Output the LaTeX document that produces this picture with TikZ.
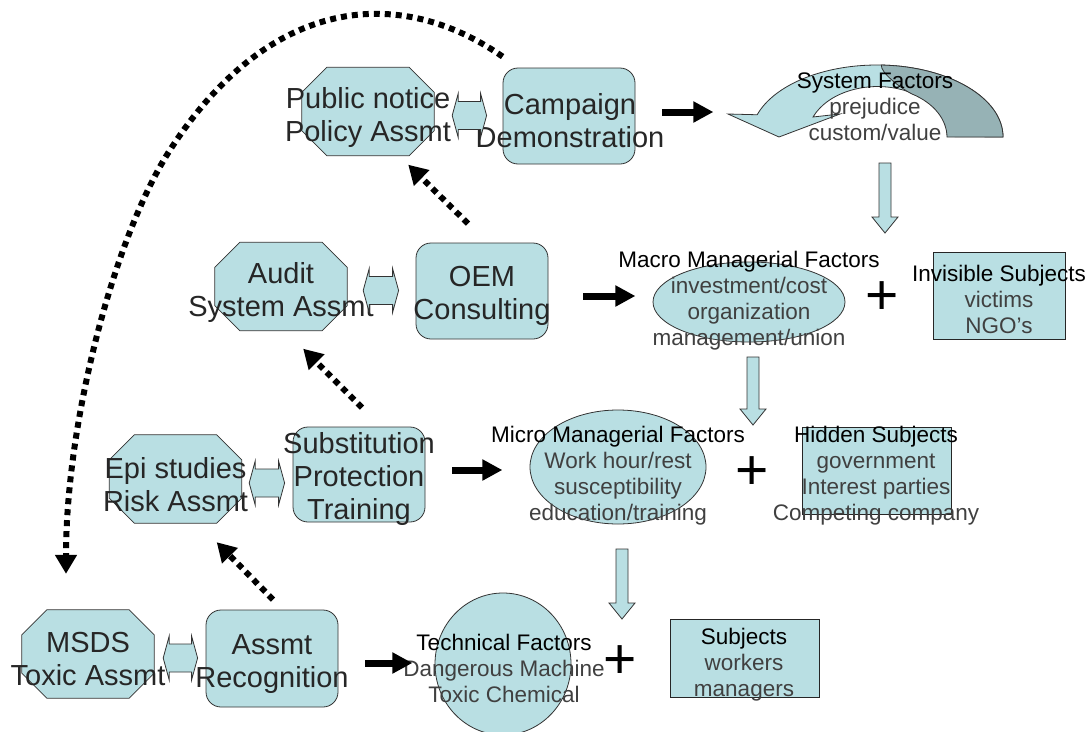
\documentclass[tikz,border=0pt]{standalone}
\usepackage{fontspec}
\setmainfont{Liberation Sans}
\usetikzlibrary{arrows.meta,shapes,calc}
\definecolor{boxfill}{RGB}{185,223,227}
\definecolor{boxdark}{RGB}{150,178,181}
\newcommand{\bigfont}{\fontsize{29pt}{33pt}\selectfont}
\newcommand{\smallfont}{\fontsize{22.5pt}{26pt}\selectfont}
\tikzset{
  shapeline/.style={draw=black!80, line width=0.8pt, fill=boxfill},
  octbase/.style={shape=rectangle, minimum width=132pt, minimum height=88pt, inner sep=0pt},
  roundbox/.style={shapeline, shape=rectangle, rounded corners=15pt, minimum width=132pt, minimum height=96pt, inner sep=0pt},
  subjbox/.style={shapeline, draw=black!85, line width=1pt, shape=rectangle, inner sep=0pt},
  factoval/.style={shapeline, shape=ellipse, inner sep=0pt},
  bigtxt/.style={font=\bigfont, align=center, text=black!85, inner sep=0pt, yshift=-2.5pt},
  smalltxt/.style={font=\smallfont, align=center, text=black!75, inner sep=0pt, yshift=-2.5pt},
  plustxt/.style={font=\fontsize{57pt}{57pt}\selectfont, inner sep=0pt},
  dotarrow/.style={line width=6pt, dash pattern=on 6pt off 5pt, -{Triangle[width=21pt,length=19pt]}},
  blkarrow/.style={line width=7pt, -{Triangle[width=20pt,length=20pt]}},
  hollowarrow/.style={draw=black!80, line width=0.8pt, fill=boxfill, line join=miter}
}
% octagon: name, x, y, text
\newcommand{\octnode}[4]{%
  \node[octbase] (#1) at (#2,#3) {};
  \draw[shapeline] ([xshift=25pt]#1.north west) -- ([xshift=-25pt]#1.north east)
    -- ([yshift=-25pt]#1.north east) -- ([yshift=25pt]#1.south east)
    -- ([xshift=-25pt]#1.south east) -- ([xshift=25pt]#1.south west)
    -- ([yshift=25pt]#1.south west) -- ([yshift=-25pt]#1.north west) -- cycle;
  \node[bigtxt] (#1txt) at ([yshift=-3pt]#1.center) {#4};}
% left-right block arrow between two nodes: from, to, gap from, gap to
\newcommand{\lrarrow}[4]{%
  \draw[hollowarrow] let \p1=([xshift=#3pt,yshift=-4pt]#1.east), \p2=([xshift=-#4pt]#2.west) in
    (\x1,\y1) -- (\x1+6pt,\y1+22pt) -- (\x1+6pt,\y1+14pt) -- (\x2-6pt,\y1+14pt) -- (\x2-6pt,\y1+22pt)
    -- (\x2,\y1) -- (\x2-6pt,\y1-22pt) -- (\x2-6pt,\y1-14pt) -- (\x1+6pt,\y1-14pt) -- (\x1+6pt,\y1-22pt) -- cycle;}
% down block arrow: x, top, tip
\newcommand{\dnarrow}[3]{%
  \draw[hollowarrow] ({#1-6},#2) -- ({#1+6},#2) -- ({#1+6},{#3-16}) -- ({#1+13},{#3-16}) -- (#1,#3)
    -- ({#1-13},{#3-16}) -- ({#1-6},{#3-16}) -- cycle;}

\begin{document}
\begin{tikzpicture}[x=1pt,y=-1pt]
  \fill[white] (0,0) rectangle (1092,731);
  \useasboundingbox (0,0) rectangle (1092,731);

  %curved arrow
  \draw[hollowarrow] (728,114) -- (779,137) -- (840,114) -- (813,117)
    arc[start angle=157, end angle=0, x radius=70pt, y radius=50pt]
    -- (1003,137) arc[start angle=0, end angle=162, x radius=126pt, y radius=72pt] -- cycle;
  \draw[hollowarrow, fill=boxdark] (947,137) -- (1003,137)
    arc[start angle=0, end angle=88, x radius=126pt, y radius=72pt]
    .. controls (880,72) and (900,88) .. (912,94)
    arc[start angle=60, end angle=0, x radius=70pt, y radius=50pt] -- cycle;
  \node[smalltxt] (systxt) at (875,104) {\textcolor{black}{System Factors}\\prejudice\\custom/value};

  %nodes
  \octnode{pub}{368}{111.5}{Public notice\\Policy Assmt}
  \octnode{audit}{281}{286.5}{Audit\\System Assmt}
  \octnode{epi}{175.5}{479}{Epi studies\\Risk Assmt}
  \octnode{msds}{88}{654}{MSDS\\Toxic Assmt}

  \node[roundbox] (camp) at (569,116) {};
  \node[bigtxt] (camptxt) at (570,118) {Campaign\\Demonstration};
  \node[roundbox] (oem) at (482,291) {};
  \node[bigtxt] (oemtxt) at (482,293) {OEM\\Consulting};
  \node[roundbox, minimum height=95pt] (sub) at (359,474.5) {};
  \node[bigtxt] (subtxt) at (359,476.5) {Substitution\\Protection\\Training};
  \node[roundbox, minimum height=97pt] (assmt) at (272,658.5) {};
  \node[bigtxt] (assmttxt) at (272,662) {Assmt\\Recognition};

  \node[factoval, minimum width=192pt, minimum height=80pt] (macro) at (749,302) {};
  \node[smalltxt] (macrotxt) at (749,298) {\textcolor{black}{Macro Managerial Factors}\\investment/cost\\organization\\management/union};
  \node[factoval, minimum width=176pt, minimum height=114pt] (micro) at (618,467) {};
  \node[smalltxt] (microtxt) at (618,473.5) {\textcolor{black}{Micro Managerial Factors}\\Work hour/rest\\susceptibility\\education/training};
  \node[factoval, minimum width=136pt, minimum height=142pt] (tech) at (503,664) {};
  \node[smalltxt] (techtxt) at (504,666) {\textcolor{black}{Technical Factors}\\Dangerous Machine\\Toxic Chemical};

  \node[subjbox, minimum width=132pt, minimum height=87pt] (invis) at (999,295.5) {};
  \node[smalltxt] (invistxt) at (999,297) {\textcolor{black}{Invisible Subjects}\\victims\\NGO's};
  \node[subjbox, minimum width=149pt, minimum height=87pt] (hidden) at (876.5,470.5) {};
  \node[smalltxt] (hiddentxt) at (876,473) {\textcolor{black}{Hidden Subjects}\\government\\Interest parties\\Competing company};
  \node[subjbox, minimum width=149pt, minimum height=78pt] (subj) at (744.5,658) {};
  \node[smalltxt] (subjtxt) at (744,662) {\textcolor{black}{Subjects}\\workers\\managers};

  \node[plustxt] (plus1) at (882,298) {+};
  \node[plustxt] (plus2) at (752,473) {+};
  \node[plustxt] (plus3) at (620,662) {+};

  %edges
  \lrarrow{pub}{camp}{18}{16}
  \lrarrow{audit}{oem}{16}{17}
  \lrarrow{epi}{sub}{7.5}{8}
  \lrarrow{msds}{assmt}{9}{8}

  \dnarrow{885}{163}{233}
  \dnarrow{753}{357}{425}
  \dnarrow{622}{549}{619}

  \draw[blkarrow] ([shift={(27pt,4pt)}]camp.east) -- ++(51pt,0pt);
  \draw[blkarrow] ([shift={(35pt,-5pt)}]oem.east) -- ++(52pt,0pt);
  \draw[blkarrow] ([shift={(27pt,4.5pt)}]sub.east) -- ++(50pt,0pt);
  \draw[blkarrow] ([shift={(27pt,-4.5pt)}]assmt.east) -- ++(47pt,0pt);

  \draw[dotarrow] ([shift={(-14pt,19pt)}]oem.north) -- ([shift={(-26pt,-9pt)}]pub.south east);
  \draw[dotarrow] ([shift={(3pt,19pt)}]sub.north) -- ([shift={(-44pt,-18pt)}]audit.south east);
  \draw[dotarrow] ([shift={(1pt,10pt)}]assmt.north) -- ([shift={(-25pt,-19pt)}]epi.south east);
  \draw[dotarrow] ([yshift=11pt]camp.north west) .. controls (400,-15) and (270,-5) .. (170,150)
    .. controls (115,235) and (66,420) .. ([shift={(-22pt,36pt)}]msds.north);
\end{tikzpicture}
\end{document}
